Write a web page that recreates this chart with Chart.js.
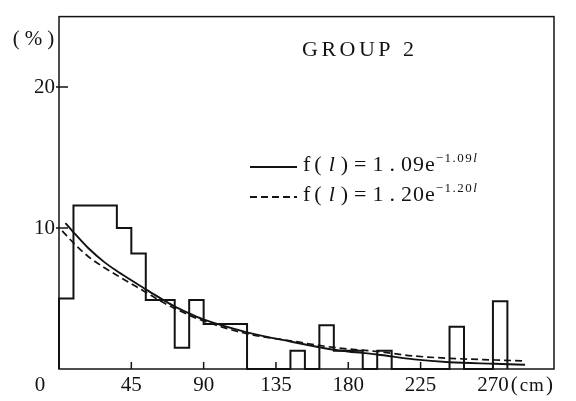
<!DOCTYPE html>
<html>
<head>
<meta charset="utf-8">
<script src="https://cdn.jsdelivr.net/npm/chart.js@4.4.1/dist/chart.umd.min.js"></script>
<style>
  body { margin: 0; background: #fff; }
  #wrap { width: 576px; height: 401px; }
</style>
</head>
<body>
<div id="wrap"><canvas id="lengthChart" width="576" height="401"></canvas></div>
<script>
// histogram of lengths (cm), 9 cm bins, share in %
const binStarts = [0, 9, 18, 27, 36, 45, 54, 63, 72, 81, 90, 99, 108, 117, 126, 135,
                   144, 153, 162, 171, 180, 189, 198, 207, 216, 225, 234, 243, 252, 261, 270, 279];
const binPercent = [5.0, 11.6, 11.6, 11.6, 10.0, 8.2, 4.9, 4.9, 1.5, 4.9, 3.2, 3.2, 3.2, 0, 0, 0,
                    1.3, 0, 3.1, 1.3, 1.3, 0, 1.3, 0, 0, 0, 0, 3.0, 0, 0, 4.8, 0];

// fitted curves
const solidLength = [4, 9, 18, 28, 36, 45, 54, 62, 71, 80, 89, 117, 144, 171, 198, 221, 243, 271, 290];
const solidFit = [10.35, 9.7, 8.6, 7.6, 6.95, 6.3, 5.65, 5.1, 4.5, 4.0, 3.55, 2.6, 1.95, 1.37, 1.03, 0.68, 0.48, 0.37, 0.3];
const dashedLength = [2, 9, 18, 28, 36, 45, 54, 62, 71, 89, 117, 144, 171, 198, 221, 243, 271, 290];
const dashedFit = [9.8, 8.95, 8.0, 7.2, 6.65, 6.05, 5.45, 4.9, 4.35, 3.45, 2.5, 2.0, 1.53, 1.24, 0.92, 0.76, 0.64, 0.57];

const xTicks = [45, 90, 135, 180, 225, 270];
const yTicks = [10, 20];

const ink = '#131313';
const serif = '"Liberation Serif", "DejaVu Serif", serif';

function toPoints(xs, ys) {
    return xs.map((x, i) => ({ x: x, y: ys[i] }));
}

// outline starts on the axis then steps over the bin tops
const histPoints = [{ x: binStarts[0], y: 0 }].concat(toPoints(binStarts, binPercent));

function drawRuns(ctx, x, y, runs) {
    runs.forEach(r => {
        ctx.font = r.font;
        ctx.letterSpacing = r.spacing || '0px';
        ctx.fillText(r.text, x, y + (r.dy || 0));
        x += ctx.measureText(r.text).width + (r.gap || 0);
    });
    ctx.letterSpacing = '0px';
}

function formulaRuns(coef) {
    const parts = coef.split('.');
    return [
        { text: 'f(', font: '22px ' + serif, spacing: '4px', gap: 3 },
        { text: 'l', font: 'italic 22px ' + serif, gap: 6 },
        { text: ')=', font: '22px ' + serif, spacing: '6px', gap: 0 },
        { text: parts[0], font: '22px ' + serif, gap: 6 },
        { text: '.', font: '22px ' + serif, gap: 6 },
        { text: parts[1] + 'e', font: '22px ' + serif, spacing: '1px', gap: 0 },
        { text: '\u2212' + coef, font: '13px ' + serif, spacing: '1.5px', dy: -9 },
        { text: 'l', font: 'italic 13px ' + serif, dy: -9 }
    ];
}

const decorations = {
    id: 'decorations',
    afterDraw(chart) {
        const ctx = chart.ctx;
        const area = chart.chartArea;
        const xs = chart.scales.x;
        const ys = chart.scales.y;
        ctx.save();
        ctx.strokeStyle = ink;
        ctx.fillStyle = ink;
        ctx.lineWidth = 1.5;
        ctx.setLineDash([]);
        ctx.strokeRect(area.left, area.top, area.right - area.left, area.bottom - area.top);

        // ticks point into the plot
        ctx.beginPath();
        xTicks.forEach(v => {
            const px = xs.getPixelForValue(v);
            ctx.moveTo(px, area.bottom);
            ctx.lineTo(px, area.bottom - 7);
        });
        yTicks.forEach(v => {
            const py = ys.getPixelForValue(v);
            ctx.moveTo(area.left - 3, py);
            ctx.lineTo(area.left + 9, py);
        });
        ctx.stroke();

        ctx.textBaseline = 'middle';
        ctx.textAlign = 'center';
        ctx.font = '21px ' + serif;
        ctx.fillText('0', 40, 385);
        ctx.letterSpacing = '5px';
        ctx.fillText('(%)', 36, 39);
        ctx.letterSpacing = '0px';

        // unit after the last x label
        const x270 = xs.getPixelForValue(270);
        const w270 = ctx.measureText('270').width;
        let ux = x270 + w270 / 2 + 2;
        ctx.textAlign = 'left';
        ctx.fillText('(', ux, 385);
        ux += ctx.measureText('(').width + 2;
        ctx.font = '19px ' + serif;
        ctx.letterSpacing = '1px';
        ctx.fillText('cm', ux, 386);
        ux += ctx.measureText('cm').width + 1;
        ctx.letterSpacing = '0px';
        ctx.font = '21px ' + serif;
        ctx.fillText(')', ux, 385);

        ctx.textBaseline = 'alphabetic';
        ctx.font = '22px ' + serif;
        ctx.letterSpacing = '3.5px';
        ctx.fillText('GROUP 2', 302, 56);
        ctx.letterSpacing = '0px';

        // legend
        ctx.lineWidth = 1.8;
        ctx.beginPath();
        ctx.moveTo(250, 167);
        ctx.lineTo(297, 167);
        ctx.stroke();
        ctx.setLineDash([7, 4]);
        ctx.beginPath();
        ctx.moveTo(250, 197);
        ctx.lineTo(297, 197);
        ctx.stroke();
        ctx.setLineDash([]);
        drawRuns(ctx, 303, 171, formulaRuns('1.09'));
        drawRuns(ctx, 303, 201, formulaRuns('1.20'));
        ctx.restore();
    }
};

const ctx = document.getElementById('lengthChart').getContext('2d');
const lengthChart = new Chart(ctx, {
    type: 'line',
    data: {
        datasets: [{
            label: 'histogram',
            data: histPoints,
            stepped: true,
            borderColor: ink,
            borderWidth: 2,
            pointRadius: 0,
            fill: false,
            clip: false
        }, {
            label: 'f(l)=1.09e^-1.09l',
            data: toPoints(solidLength, solidFit),
            borderColor: ink,
            borderWidth: 1.9,
            pointRadius: 0,
            cubicInterpolationMode: 'monotone',
            fill: false
        }, {
            label: 'f(l)=1.20e^-1.20l',
            data: toPoints(dashedLength, dashedFit),
            borderColor: ink,
            borderWidth: 1.7,
            borderDash: [7, 4],
            pointRadius: 0,
            cubicInterpolationMode: 'monotone',
            fill: false
        }]
    },
    options: {
        responsive: false,
        animation: false,
        layout: { padding: { top: 8, right: 22, left: 0, bottom: 0 } },
        plugins: {
            legend: { display: false },
            tooltip: { enabled: false }
        },
        scales: {
            x: {
                type: 'linear',
                min: 0,
                max: 308,
                afterBuildTicks: s => { s.ticks = xTicks.map(v => ({ value: v })); },
                afterFit: s => { s.height = 32; },
                grid: { display: false, drawTicks: false },
                border: { display: false },
                ticks: {
                    font: { family: serif, size: 21 },
                    color: ink,
                    padding: 4,
                    maxRotation: 0,
                    autoSkip: false
                }
            },
            y: {
                min: 0,
                max: 25,
                afterBuildTicks: s => { s.ticks = yTicks.map(v => ({ value: v })); },
                afterFit: s => { s.width = 59; },
                grid: { display: false, drawTicks: false },
                border: { display: false },
                ticks: {
                    font: { family: serif, size: 21 },
                    color: ink,
                    padding: 4
                }
            }
        }
    },
    plugins: [decorations]
});
</script>
</body>
</html>
